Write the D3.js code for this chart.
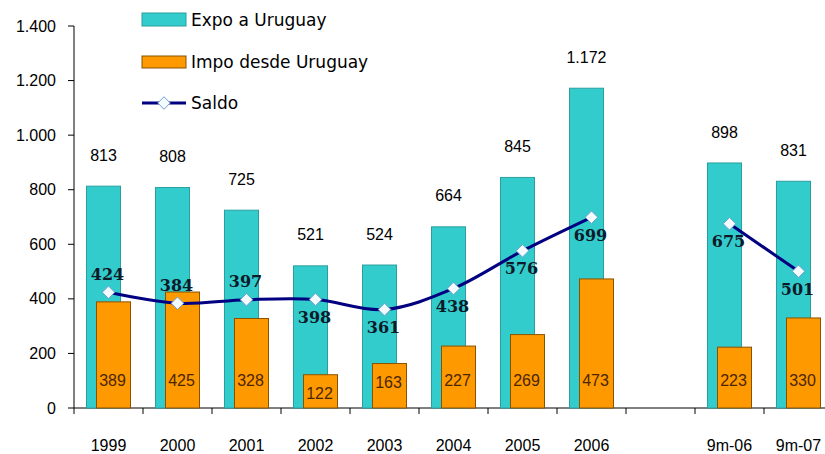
<!DOCTYPE html>
<html>
<head>
<meta charset="utf-8">
<script src="https://cdn.jsdelivr.net/npm/d3@7"></script>
<style>
  body { margin: 0; background: #fff; }
  svg { display: block; font-family: "Liberation Sans", Arial, sans-serif; }
</style>
</head>
<body>
<svg id="chart" width="825" height="454"></svg>
<script>
const categories = ['1999', '2000', '2001', '2002', '2003', '2004', '2005', '2006', '', '9m-06', '9m-07'];
const expo = [813, 808, 725, 521, 524, 664, 845, 1172, null, 898, 831];
const impo = [389, 425, 328, 122, 163, 227, 269, 473, null, 223, 330];
const saldo = [424, 384, 397, 398, 361, 438, 576, 699, null, 675, 501];
// etiqueta de saldo arriba (-1) o abajo (1) del marcador
const saldoSide = [-1, -1, -1, 1, 1, 1, 1, 1, 0, 1, 1];
const yTicks = [0, 200, 400, 600, 800, 1000, 1200, 1400];

const TEAL = '#33cccc';
const ORANGE = '#ff9900';
const NAVY = '#000080';

const svg = d3.select('#chart');
const fmt = (v) => d3.format(',')(v).replace(/,/g, '.');

const x = d3.scaleBand().domain(d3.range(categories.length)).range([74, 833]).paddingInner(0).paddingOuter(0);
const y = d3.scaleLinear().domain([0, 1400]).range([408, 26]);
const bw = 34;
const shift = 5;

// ejes
svg.append('line').attr('x1', 74).attr('x2', 74).attr('y1', y(1400)).attr('y2', y(0)).attr('stroke', '#000');
svg.append('line').attr('x1', 74).attr('x2', 825).attr('y1', y(0)).attr('y2', y(0)).attr('stroke', '#000');
yTicks.forEach((t) => {
  svg.append('line').attr('x1', 68).attr('x2', 74).attr('y1', y(t)).attr('y2', y(t)).attr('stroke', '#000');
  svg.append('text').attr('x', 56).attr('y', y(t)).attr('dy', '0.35em').attr('text-anchor', 'end')
    .attr('font-size', 16).attr('fill', '#000').text(fmt(t));
});
d3.range(categories.length + 1).forEach((i) => {
  const xx = 74 + i * x.bandwidth();
  svg.append('line').attr('x1', xx).attr('x2', xx).attr('y1', y(0)).attr('y2', y(0) + 6).attr('stroke', '#000');
});
categories.forEach((c, i) => {
  svg.append('text').attr('x', x(i) + x.bandwidth() / 2).attr('y', 445).attr('dy', '0.35em')
    .attr('text-anchor', 'middle').attr('font-size', 16).attr('fill', '#000').text(c);
});

const idx = d3.range(categories.length).filter((i) => expo[i] != null);

// barras expo
svg.append('g').selectAll('rect').data(idx).join('rect')
  .attr('x', (i) => x(i) + x.bandwidth() / 2 - shift - bw / 2)
  .attr('y', (i) => y(expo[i]))
  .attr('width', bw)
  .attr('height', (i) => y(0) - y(expo[i]))
  .attr('fill', TEAL).attr('stroke', '#2b9f9f').attr('stroke-width', 1);

// barras impo
svg.append('g').selectAll('rect').data(idx).join('rect')
  .attr('x', (i) => x(i) + x.bandwidth() / 2 + shift - bw / 2)
  .attr('y', (i) => y(impo[i]))
  .attr('width', bw)
  .attr('height', (i) => y(0) - y(impo[i]))
  .attr('fill', ORANGE).attr('stroke', '#8a5200').attr('stroke-width', 1);

svg.append('g').selectAll('text').data(idx).join('text')
  .attr('x', (i) => x(i) + x.bandwidth() / 2 - shift)
  .attr('y', (i) => y(expo[i]) - 31)
  .attr('dy', '0.35em').attr('text-anchor', 'middle').attr('font-size', 16).attr('fill', '#000')
  .text((i) => fmt(expo[i]));

svg.append('g').selectAll('text').data(idx).join('text')
  .attr('x', (i) => x(i) + x.bandwidth() / 2 + shift - 1)
  .attr('y', (i) => Math.max(380, y(impo[i]) + 19))
  .attr('dy', '0.35em').attr('text-anchor', 'middle').attr('font-size', 16).attr('fill', '#4a2600')
  .text((i) => fmt(impo[i]));

// línea de saldo (suavizada, con corte en la categoría vacía)
const line = d3.line()
  .defined((i) => saldo[i] != null)
  .x((i) => x(i) + x.bandwidth() / 2)
  .y((i) => y(saldo[i]))
  .curve(d3.curveCatmullRom.alpha(0));
svg.append('path').datum(d3.range(categories.length)).attr('d', line)
  .attr('fill', 'none').attr('stroke', NAVY).attr('stroke-width', 3);

const diamond = d3.symbol().type(d3.symbolDiamond2).size(100);
svg.append('g').selectAll('path').data(idx).join('path')
  .attr('d', diamond)
  .attr('transform', (i) => `translate(${x(i) + x.bandwidth() / 2},${y(saldo[i])})`)
  .attr('fill', '#f4fbff').attr('stroke', '#6f9fd0').attr('stroke-width', 1);

svg.append('g').selectAll('text').data(idx).join('text')
  .attr('x', (i) => x(i) + x.bandwidth() / 2 - 1)
  .attr('y', (i) => y(saldo[i]) + saldoSide[i] * 18)
  .attr('dy', '0.35em').attr('text-anchor', 'middle')
  .attr('font-family', '"DejaVu Serif", serif').attr('font-weight', 'bold').attr('font-size', 16)
  .attr('fill', '#0d1a2a')
  .text((i) => saldo[i]);

// leyenda
const legend = svg.append('g').attr('font-family', '"DejaVu Sans", sans-serif').attr('font-size', 17);
legend.append('rect').attr('x', 142).attr('y', 13).attr('width', 44).attr('height', 13)
  .attr('fill', TEAL).attr('stroke', '#2b9f9f');
legend.append('text').attr('x', 191).attr('y', 20).attr('dy', '0.35em').text('Expo a Uruguay');
legend.append('rect').attr('x', 142).attr('y', 56).attr('width', 44).attr('height', 12)
  .attr('fill', ORANGE).attr('stroke', '#8a5200');
legend.append('text').attr('x', 191).attr('y', 62).attr('dy', '0.35em').text('Impo desde Uruguay');
legend.append('line').attr('x1', 142).attr('x2', 186).attr('y1', 103).attr('y2', 103)
  .attr('stroke', NAVY).attr('stroke-width', 3);
legend.append('path').attr('d', diamond).attr('transform', 'translate(164,103)')
  .attr('fill', '#f4fbff').attr('stroke', '#6f9fd0');
legend.append('text').attr('x', 191).attr('y', 103).attr('dy', '0.35em').text('Saldo');
</script>
</body>
</html>
